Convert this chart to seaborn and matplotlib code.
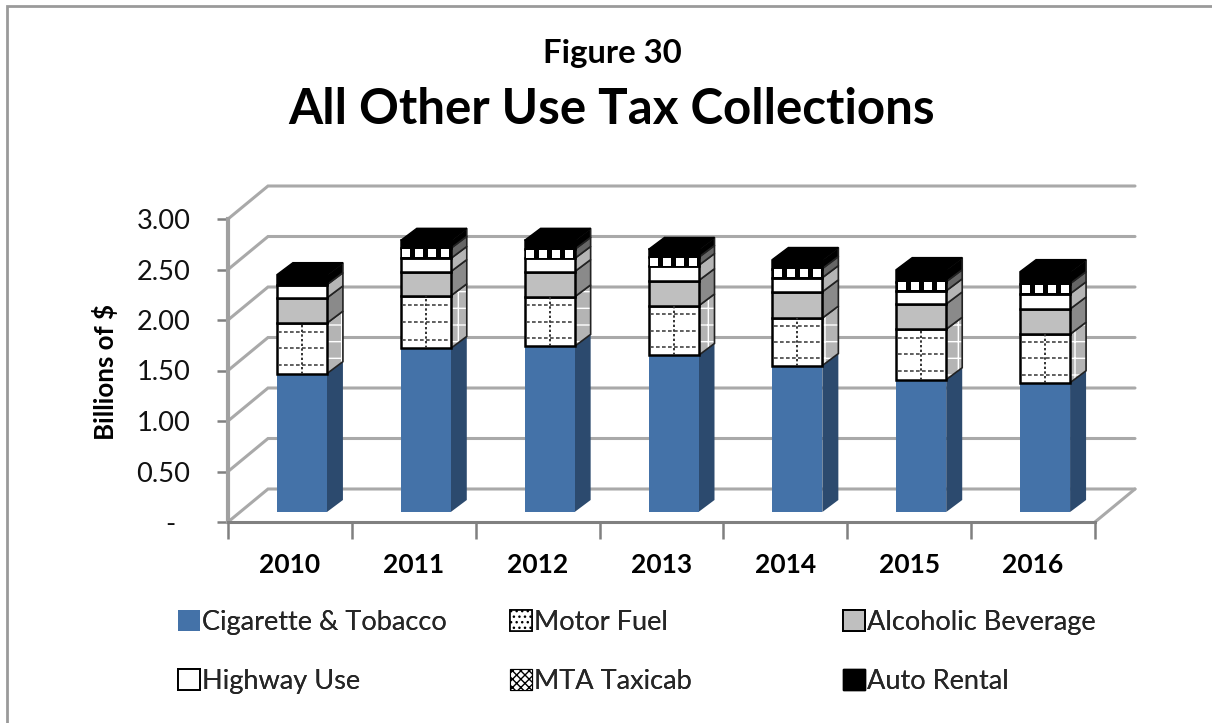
import matplotlib
matplotlib.use("Agg")
import matplotlib.pyplot as plt
from matplotlib.patches import Polygon, Rectangle, Patch
import numpy as np
import seaborn as sns

years = ["2010", "2011", "2012", "2013", "2014", "2015", "2016"]
cigarette = [1.37, 1.62, 1.64, 1.55, 1.45, 1.31, 1.28]
motor_fuel = [0.50, 0.52, 0.49, 0.49, 0.47, 0.50, 0.48]
alcoholic = [0.25, 0.24, 0.25, 0.25, 0.26, 0.25, 0.25]
highway = [0.13, 0.13, 0.13, 0.15, 0.14, 0.13, 0.15]
taxicab = [0.00, 0.10, 0.09, 0.08, 0.09, 0.09, 0.10]
auto_rental = [0.10, 0.08, 0.09, 0.08, 0.09, 0.12, 0.12]
series_names = ["Cigarette & Tobacco", "Motor Fuel", "Alcoholic Beverage",
                "Highway Use", "MTA Taxicab", "Auto Rental"]
y_ticks = [0, 0.5, 1.0, 1.5, 2.0, 2.5, 3.0]
y_labels = ["-  ", "0.50", "1.00", "1.50", "2.00", "2.50", "3.00"]

sns.set_theme(style="white")
plt.rcParams["font.family"] = ["Lato", "DejaVu Sans"]
plt.rcParams["hatch.linewidth"] = 1.0

W, H = 1212, 723
fig = plt.figure(figsize=(W / 100, H / 100), dpi=100, facecolor="white")
L, R, T, B = 228, 1095, 219, 522
ax = fig.add_axes([L / W, 1 - B / H, (R - L) / W, (B - T) / H])
ax.patch.set_alpha(0)

fig.add_artist(Rectangle((7 / W, -0.02), 1.05, 1 - 6 / H + 0.02,
                         transform=fig.transFigure, fc="white", ec="#9a9a9a", lw=2, zorder=-5))

px_x = 7 / (R - L)
px_y = 3 / (B - T)
WALL_DX, WALL_DY = 40 * px_x, 33 * px_y
SHIFT_X, LIFT = 12 * px_x, 10 * px_y
BAR_DX, BAR_DY = 16 * px_x, 12 * px_y
BAR_W = 50 * px_x

GRID = "#a9a9a9"
for v in y_ticks:
    ax.plot([-0.5, -0.5 + WALL_DX, 6.5 + WALL_DX], [v, v + WALL_DY, v + WALL_DY],
            color=GRID, lw=2.2, clip_on=False, zorder=1, solid_joinstyle="miter")
ax.plot([6.5, 6.5 + WALL_DX], [0, WALL_DY], color=GRID, lw=2.2, clip_on=False, zorder=1)

styles = [
    dict(front="#4472a8", side="#2c4a6e", hatch=None, ec="none"),
    dict(front="white", side="#b4b4b4", hatch="+", ec="black"),
    dict(front="#bfbfbf", side="#8a8a8a", hatch=None, ec="black"),
    dict(front="white", side="#b5b5b5", hatch=None, ec="black"),
    dict(front="black", side="#666666", hatch=None, ec="black"),
    dict(front="black", side="black", hatch=None, ec="black"),
]
all_series = [cigarette, motor_fuel, alcoholic, highway, taxicab, auto_rental]

cum = np.zeros(len(years))
for s_idx, (name, vals, st) in enumerate(zip(series_names, all_series, styles)):
    vals = np.array(vals)
    n0 = len(ax.containers)
    sns.barplot(x=years, y=vals, bottom=cum + LIFT, color=st["front"], saturation=1,
                width=BAR_W, ax=ax, zorder=4, linewidth=0, edgecolor="none",
                order=years, legend=False)
    for i, bar in enumerate(ax.containers[n0]):
        bar.set_x(i + SHIFT_X - BAR_W / 2)
        bar.set_clip_on(False)
        if st["ec"] != "none":
            bar.set_edgecolor(st["ec"])
            bar.set_linewidth(1.8)
        if vals[i] <= 0:
            bar.set_visible(False)
            continue
        x0 = i + SHIFT_X - BAR_W / 2
        x1 = i + SHIFT_X + BAR_W / 2
        y0, y1 = cum[i] + LIFT, cum[i] + vals[i] + LIFT
        corners = [(x1, y0), (x1 + BAR_DX, y0 + BAR_DY), (x1 + BAR_DX, y1 + BAR_DY), (x1, y1)]
        if st["hatch"]:
            ax.add_patch(Polygon(corners, closed=True, fc=st["side"], ec="white", lw=0,
                                 hatch=st["hatch"], clip_on=False, zorder=3))
            ax.add_patch(Polygon(corners, closed=True, fc="none", ec="#222222", lw=1.2,
                                 clip_on=False, zorder=3))
        else:
            ax.add_patch(Polygon(corners, closed=True, fc=st["side"],
                                 ec="#222222" if st["ec"] != "none" else "none", lw=1.2,
                                 clip_on=False, zorder=3))
        if name == "Motor Fuel":
            xc = (x0 + x1) / 2
            ax.plot([xc, xc], [y0, y1], color="#333333", lw=1.4, ls=(0, (1.2, 1.2)),
                    zorder=5, clip_on=False)
            for frac in (1 / 6, 1 / 2, 5 / 6):
                yy = y0 + frac * (y1 - y0)
                ax.plot([x0 + 0.012, x1 - 0.012], [yy, yy], color="#444444", lw=1.2,
                        ls=(0, (2.2, 1.4)), zorder=5, clip_on=False)
        if name == "MTA Taxicab":
            fracs = np.array([0.11, 0.37, 0.63, 0.89])
            ax.scatter(x0 + fracs * BAR_W, [(y0 + y1) / 2] * 4, marker="s", s=30, color="white",
                       linewidths=0, zorder=6, clip_on=False)
    cum = cum + vals

for i, total in enumerate(cum):
    x0 = i + SHIFT_X - BAR_W / 2
    x1 = i + SHIFT_X + BAR_W / 2
    y1 = total + LIFT
    ax.add_patch(Polygon([(x0, y1), (x0 + BAR_DX, y1 + BAR_DY), (x1 + BAR_DX, y1 + BAR_DY), (x1, y1)],
                         closed=True, fc="black", ec="black", lw=1, clip_on=False, zorder=5))

ax.set_xlim(-0.5, 6.5)
ax.set_ylim(0, 3)
ax.set_yticks(y_ticks)
ax.set_yticklabels(y_labels, fontsize=19.6, color="#111111")
ax.set_xticks(range(len(years)))
ax.set_xticklabels(years, fontsize=19, fontweight="bold", color="black")
ax.set_xticks(np.arange(-0.5, 7, 1), minor=True)
ax.tick_params(axis="x", which="major", length=0, pad=22)
ax.tick_params(axis="x", which="minor", length=12, width=1.8, color="#808080", bottom=True)
ax.tick_params(axis="y", length=8, width=1.8, color="#808080", left=True, pad=19)
for s in ["top", "right"]:
    ax.spines[s].set_visible(False)
ax.spines["left"].set_visible(True)
ax.spines["left"].set_color("#a0a0a0")
ax.spines["left"].set_linewidth(3)
ax.spines["bottom"].set_visible(True)
ax.spines["bottom"].set_color("#808080")
ax.spines["bottom"].set_linewidth(2.2)
ax.set_xlabel("")
ax.set_ylabel("")

fig.text(105 / W, 1 - 372 / H, "Billions of $", rotation=90, ha="center", va="center",
         fontsize=18.6, fontweight="bold", color="black")
fig.text(612 / W, 1 - 54 / H, "Figure 30", ha="center", va="center",
         fontsize=23.7, fontweight="bold", color="black")
fig.text(612 / W, 1 - 109 / H, "All Other Use Tax Collections", ha="center", va="center",
         fontsize=35.5, fontweight="bold", color="black")

leg_styles = [
    dict(fc="#4472a8", ec="none"),
    dict(fc="white", ec="black", hatch="...", lw=1.2),
    dict(fc="#bfbfbf", ec="black", lw=1.4),
    dict(fc="white", ec="black", lw=1.4),
    dict(fc="white", ec="black", hatch="xxxx", lw=0.8),
    dict(fc="black", ec="black"),
]
handles = [Patch(label=n, **s) for n, s in zip(series_names, leg_styles)]
columns = [(0, 3, 178), (1, 4, 510), (2, 5, 843)]
for a, b, x_px in columns:
    leg = fig.legend([handles[a], handles[b]], [series_names[a], series_names[b]], ncol=1,
                     loc="lower left", bbox_to_anchor=(x_px / W, 1 - 694 / H), frameon=False,
                     fontsize=19.5, handlelength=0.82, handleheight=0.82, handletextpad=0.06,
                     labelspacing=1.27, borderpad=0, borderaxespad=0)
    fig.add_artist(leg)

fig.savefig("out.png", dpi=100, facecolor="white")
